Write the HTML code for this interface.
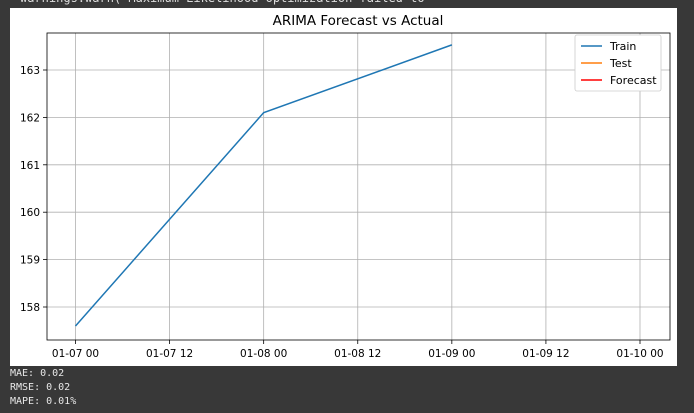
<!DOCTYPE html>
<html><head><meta charset="utf-8"><style>
body{margin:0;background:#383838;width:694px;height:413px;overflow:hidden;font-family:"DejaVu Sans","Liberation Sans",sans-serif}
#top{position:absolute;left:20px;top:-9px;color:#ddd;font:12px "DejaVu Sans Mono",monospace}
#fig{position:absolute;left:10px;top:8px;width:667px;height:358px;background:#fff}
.out{position:absolute;left:10px;color:#e8e8e8;font:10px "DejaVu Sans Mono","Liberation Mono",monospace}
</style></head><body>
<div id="top">warnings.warn("Maximum Likelihood optimization failed to</div>
<div id="fig"></div>
<svg id="chart" width="694" height="413" style="position:absolute;left:0;top:0"></svg>
<div class="out" style="top:368px">MAE: 0.02</div>
<div class="out" style="top:382px">RMSE: 0.02</div>
<div class="out" style="top:396px">MAPE: 0.01%</div>
<script>
const trainX=[0,24,48];
const trainY=[157.6,162.1,163.53];
const xTickVals=[0,12,24,36,48,60,72];
const xTickLabels=["01-07 00","01-07 12","01-08 00","01-08 12","01-09 00","01-09 12","01-10 00"];
const yTickVals=[158,159,160,161,162,163];
const legendLabels=["Train","Test","Forecast"];
const legendColors=["#1f77b4","#ff7f0e","#ff0000"];
const svg=document.getElementById('chart');
const NS='http://www.w3.org/2000/svg';
const L=47,R=670,T=33,B=340;
const xs=h=>75.5+h*(640-75.5)/72;
const ys=v=>307-(v-158)*47.4;
function mk(t,a){const e=document.createElementNS(NS,t);for(const k in a)e.setAttribute(k,a[k]);svg.appendChild(e);return e;}
xTickVals.forEach((v,i)=>{const x=xs(v);
 const g=mk('line',{x1:x,x2:x,y1:T,y2:B,stroke:'#b0b0b0','stroke-width':0.8});
 
 mk('line',{x1:x,x2:x,y1:B,y2:B+4,stroke:'#000','stroke-width':0.8});
 const t=mk('text',{x:x,y:B+17,'text-anchor':'middle','font-size':10.5,fill:'#000'});t.textContent=xTickLabels[i];
 });
yTickVals.forEach(v=>{const y=ys(v);
 const g=mk('line',{x1:L,x2:R,y1:y,y2:y,stroke:'#b0b0b0','stroke-width':0.8});
 
 mk('line',{x1:L-4,x2:L,y1:y,y2:y,stroke:'#000','stroke-width':0.8});
 const t=mk('text',{x:L-7,y:y+4,'text-anchor':'end','font-size':10.5,fill:'#000'});t.textContent=v;
 });
const ax=mk('rect',{x:L,y:T,width:R-L,height:B-T,fill:'none',stroke:'#000','stroke-width':0.8});

const pl=mk('polyline',{points:trainX.map((x,i)=>xs(x)+','+ys(trainY[i])).join(' '),fill:'none',stroke:'#1f77b4','stroke-width':1.5});

const ti=mk('text',{x:358,y:25,'text-anchor':'middle','font-size':13.5,fill:'#000'});ti.textContent='ARIMA Forecast vs Actual';

const lg=mk('rect',{x:575,y:35,width:86,height:56,rx:2,fill:'#fff',stroke:'#ccc','stroke-width':0.8});

legendLabels.forEach((s,i)=>{const y=46+i*17;
 mk('line',{x1:581,x2:602,y1:y,y2:y,stroke:legendColors[i],'stroke-width':1.5});
 const t=mk('text',{x:610,y:y+4,'font-size':11,fill:'#000'});t.textContent=s;
 });
</script>
</body></html>
